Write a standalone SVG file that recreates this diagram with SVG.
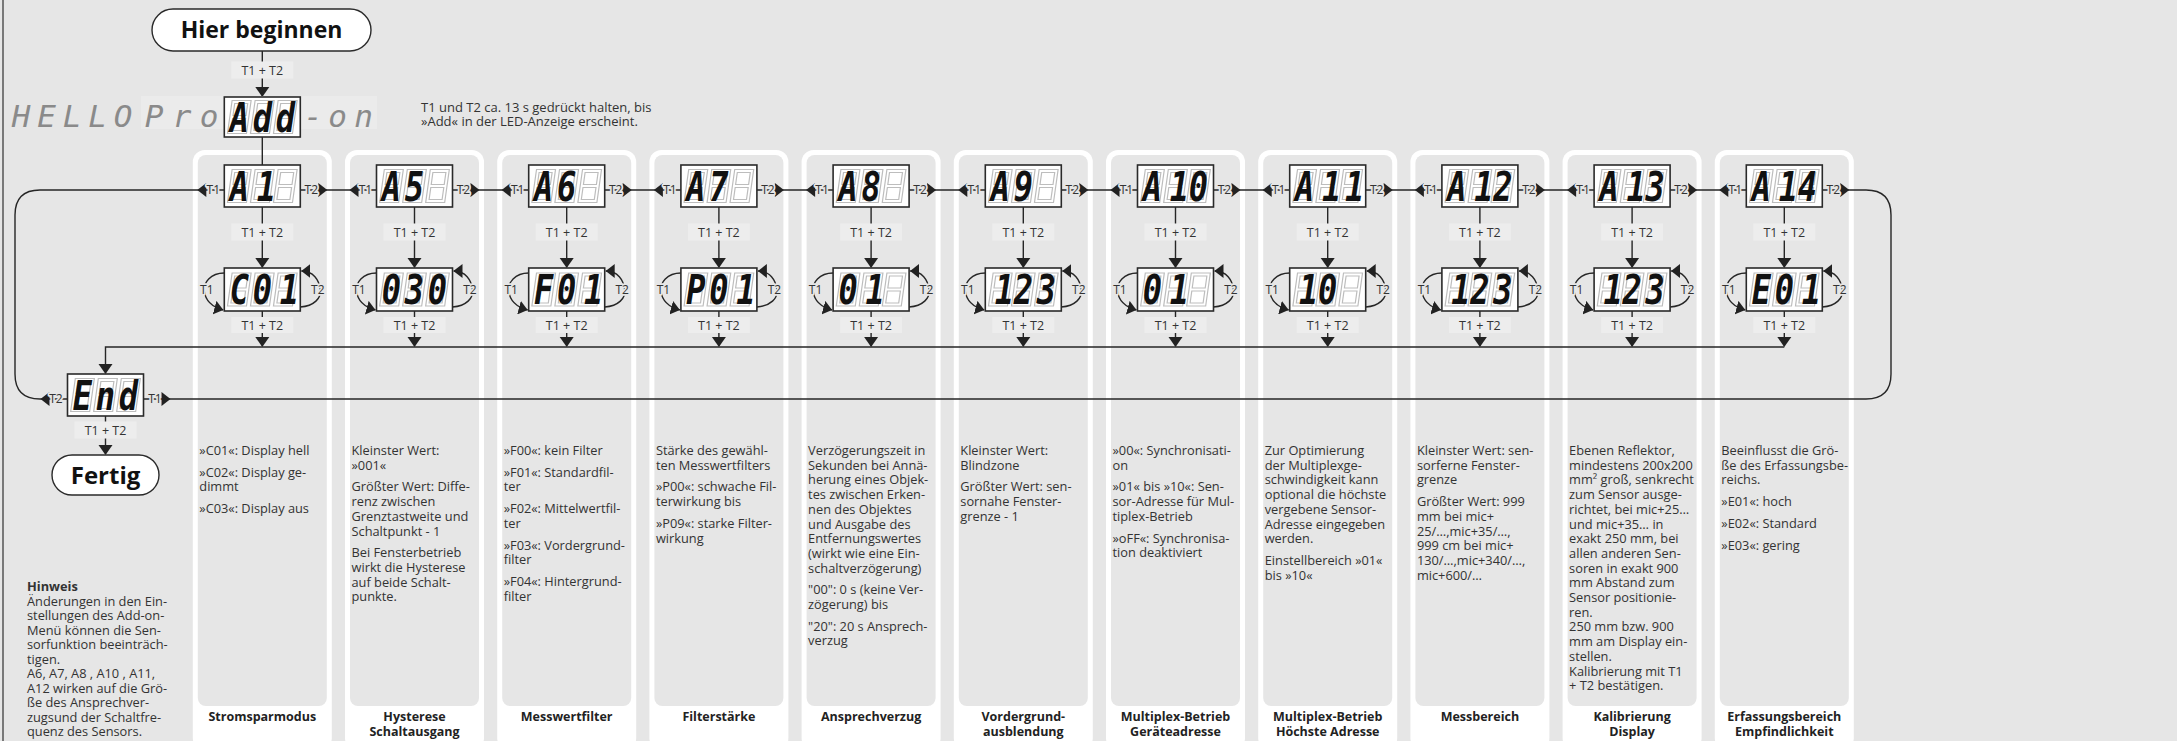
<svg xmlns="http://www.w3.org/2000/svg" width="2177" height="741" viewBox="0 0 2177 741">
<style>
.bg{fill:#e6e6e6}
.pnl{fill:#fff}
.pin{fill:#e6e6e6}
.ln{fill:none;stroke:#262626;stroke-width:1.4}
.box{fill:#fff;stroke:#2a2a2a;stroke-width:1.6}
.term{fill:#fff;stroke:#2a2a2a;stroke-width:1.4}
.seg{font-family:"DejaVu Sans Mono",monospace;font-weight:bold;font-style:italic;font-size:40px;fill:#111;text-anchor:middle}
.hello{font-family:"DejaVu Sans Mono",monospace;font-style:italic;font-size:31px;fill:#8a8a8a;text-anchor:middle}
.lb{font-family:"Open Sans","Liberation Sans",sans-serif;font-size:12.5px;fill:#333;text-anchor:middle}
.lbbg{fill:#ededed}
.sm{font-family:"Open Sans","Liberation Sans",sans-serif;font-size:12px;fill:#333;text-anchor:middle;stroke:#e6e6e6;stroke-width:3.5;paint-order:stroke;stroke-linejoin:round}
.bt{font-family:"Open Sans","Liberation Sans",sans-serif;font-size:12.8px;fill:#333}
.tt{font-family:"Open Sans","Liberation Sans",sans-serif;font-size:12.5px;font-weight:bold;fill:#222;text-anchor:middle}
.big{font-family:"Open Sans","Liberation Sans",sans-serif;font-size:23px;font-weight:bold;fill:#111;text-anchor:middle}
</style>
<defs>
<path id="ad" d="M-7,-10H7L0,0Z" fill="#222"/>
<path id="al" d="M0,0L9,-7V7Z" fill="#222"/>
<path id="ar" d="M0,0L-9,-7V7Z" fill="#222"/>
<g id="g8" transform="skewX(-8)"><path d="M-8,-15H8V15H-8Z M-8,0H8" fill="none" stroke="#bdbdbd" stroke-width="4.2"/><path d="M-8,-15H8V15H-8Z M-8,0H8" fill="none" stroke="#fff" stroke-width="1.8"/></g>
<g id="g3"><use href="#g8" x="-23"/><use href="#g8"/><use href="#g8" x="23"/></g>
<marker id="mh" viewBox="0 0 9 14" refX="9" refY="7" markerWidth="9" markerHeight="14" markerUnits="userSpaceOnUse" orient="auto"><path d="M0,0L9,7L0,14Z" fill="#222"/></marker>
<g id="loop"><path class="ln" marker-end="url(#mh)" d="M-38,273C-52,273 -59,283 -58,291C-57,300 -50,307 -39,310"/><path class="ln" marker-end="url(#mh)" d="M38,307C52,306 59,298 58,290C57,280 51,271 39,271"/></g>
</defs>
<rect class="bg" x="0" y="0" width="2177" height="741"/>
<line x1="3" y1="0" x2="3" y2="741" stroke="#555" stroke-width="1.5"/>

<g id="panels">
<rect class="pnl" x="192.8" y="150" width="139" height="600" rx="12"/><rect class="pin" x="197.8" y="155" width="129" height="551" rx="8"/>
<rect class="pnl" x="345" y="150" width="139" height="600" rx="12"/><rect class="pin" x="350" y="155" width="129" height="551" rx="8"/>
<rect class="pnl" x="497.2" y="150" width="139" height="600" rx="12"/><rect class="pin" x="502.2" y="155" width="129" height="551" rx="8"/>
<rect class="pnl" x="649.4" y="150" width="139" height="600" rx="12"/><rect class="pin" x="654.4" y="155" width="129" height="551" rx="8"/>
<rect class="pnl" x="801.6" y="150" width="139" height="600" rx="12"/><rect class="pin" x="806.6" y="155" width="129" height="551" rx="8"/>
<rect class="pnl" x="953.8" y="150" width="139" height="600" rx="12"/><rect class="pin" x="958.8" y="155" width="129" height="551" rx="8"/>
<rect class="pnl" x="1106" y="150" width="139" height="600" rx="12"/><rect class="pin" x="1111" y="155" width="129" height="551" rx="8"/>
<rect class="pnl" x="1258.2" y="150" width="139" height="600" rx="12"/><rect class="pin" x="1263.2" y="155" width="129" height="551" rx="8"/>
<rect class="pnl" x="1410.4" y="150" width="139" height="600" rx="12"/><rect class="pin" x="1415.4" y="155" width="129" height="551" rx="8"/>
<rect class="pnl" x="1562.6" y="150" width="139" height="600" rx="12"/><rect class="pin" x="1567.6" y="155" width="129" height="551" rx="8"/>
<rect class="pnl" x="1714.8" y="150" width="139" height="600" rx="12"/><rect class="pin" x="1719.8" y="155" width="129" height="551" rx="8"/>
</g>

<g id="panel-texts">
<text class="bt" x="199.3" y="455">»C01«: Display hell<tspan x="199.3" dy="21.7">»C02«: Display ge-</tspan><tspan x="199.3" dy="14.7">dimmt</tspan><tspan x="199.3" dy="21.7">»C03«: Display aus</tspan></text>
<text class="tt" x="262.3" y="721">Stromsparmodus</text>

<text class="bt" x="351.5" y="455">Kleinster Wert:<tspan x="351.5" dy="14.7">»001«</tspan><tspan x="351.5" dy="21.7">Größter Wert: Diffe-</tspan><tspan x="351.5" dy="14.7">renz zwischen</tspan><tspan x="351.5" dy="14.7">Grenztastweite und</tspan><tspan x="351.5" dy="14.7">Schaltpunkt - 1</tspan><tspan x="351.5" dy="21.7">Bei Fensterbetrieb</tspan><tspan x="351.5" dy="14.7">wirkt die Hysterese</tspan><tspan x="351.5" dy="14.7">auf beide Schalt-</tspan><tspan x="351.5" dy="14.7">punkte.</tspan></text>
<text class="tt" x="414.5" y="721">Hysterese<tspan x="414.5" dy="15">Schaltausgang</tspan></text>

<text class="bt" x="503.7" y="455">»F00«: kein Filter<tspan x="503.7" dy="21.7">»F01«: Standardfil-</tspan><tspan x="503.7" dy="14.7">ter</tspan><tspan x="503.7" dy="21.7">»F02«: Mittelwertfil-</tspan><tspan x="503.7" dy="14.7">ter</tspan><tspan x="503.7" dy="21.7">»F03«: Vordergrund-</tspan><tspan x="503.7" dy="14.7">filter</tspan><tspan x="503.7" dy="21.7">»F04«: Hintergrund-</tspan><tspan x="503.7" dy="14.7">filter</tspan></text>
<text class="tt" x="566.7" y="721">Messwertfilter</text>

<text class="bt" x="655.9" y="455">Stärke des gewähl-<tspan x="655.9" dy="14.7">ten Messwertfilters</tspan><tspan x="655.9" dy="21.7">»P00«: schwache Fil-</tspan><tspan x="655.9" dy="14.7">terwirkung bis</tspan><tspan x="655.9" dy="21.7">»P09«: starke Filter-</tspan><tspan x="655.9" dy="14.7">wirkung</tspan></text>
<text class="tt" x="718.9" y="721">Filterstärke</text>

<text class="bt" x="808.1" y="455">Verzögerungszeit in<tspan x="808.1" dy="14.7">Sekunden bei Annä-</tspan><tspan x="808.1" dy="14.7">herung eines Objek-</tspan><tspan x="808.1" dy="14.7">tes zwischen Erken-</tspan><tspan x="808.1" dy="14.7">nen des Objektes</tspan><tspan x="808.1" dy="14.7">und Ausgabe des</tspan><tspan x="808.1" dy="14.7">Entfernungswertes</tspan><tspan x="808.1" dy="14.7">(wirkt wie eine Ein-</tspan><tspan x="808.1" dy="14.7">schaltverzögerung)</tspan><tspan x="808.1" dy="21.7">"00": 0 s (keine Ver-</tspan><tspan x="808.1" dy="14.7">zögerung) bis</tspan><tspan x="808.1" dy="21.7">"20": 20 s Ansprech-</tspan><tspan x="808.1" dy="14.7">verzug</tspan></text>
<text class="tt" x="871.1" y="721">Ansprechverzug</text>

<text class="bt" x="960.3" y="455">Kleinster Wert:<tspan x="960.3" dy="14.7">Blindzone</tspan><tspan x="960.3" dy="21.7">Größter Wert: sen-</tspan><tspan x="960.3" dy="14.7">sornahe Fenster-</tspan><tspan x="960.3" dy="14.7">grenze - 1</tspan></text>
<text class="tt" x="1023.3" y="721">Vordergrund-<tspan x="1023.3" dy="15">ausblendung</tspan></text>

<text class="bt" x="1112.5" y="455">»00«: Synchronisati-<tspan x="1112.5" dy="14.7">on</tspan><tspan x="1112.5" dy="21.7">»01« bis »10«: Sen-</tspan><tspan x="1112.5" dy="14.7">sor-Adresse für Mul-</tspan><tspan x="1112.5" dy="14.7">tiplex-Betrieb</tspan><tspan x="1112.5" dy="21.7">»oFF«: Synchronisa-</tspan><tspan x="1112.5" dy="14.7">tion deaktiviert</tspan></text>
<text class="tt" x="1175.5" y="721">Multiplex-Betrieb<tspan x="1175.5" dy="15">Geräteadresse</tspan></text>

<text class="bt" x="1264.7" y="455">Zur Optimierung<tspan x="1264.7" dy="14.7">der Multiplexge-</tspan><tspan x="1264.7" dy="14.7">schwindigkeit kann</tspan><tspan x="1264.7" dy="14.7">optional die höchste</tspan><tspan x="1264.7" dy="14.7">vergebene Sensor-</tspan><tspan x="1264.7" dy="14.7">Adresse eingegeben</tspan><tspan x="1264.7" dy="14.7">werden.</tspan><tspan x="1264.7" dy="21.7">Einstellbereich »01«</tspan><tspan x="1264.7" dy="14.7">bis »10«</tspan></text>
<text class="tt" x="1327.7" y="721">Multiplex-Betrieb<tspan x="1327.7" dy="15">Höchste Adresse</tspan></text>

<text class="bt" x="1416.9" y="455">Kleinster Wert: sen-<tspan x="1416.9" dy="14.7">sorferne Fenster-</tspan><tspan x="1416.9" dy="14.7">grenze</tspan><tspan x="1416.9" dy="21.7">Größter Wert: 999</tspan><tspan x="1416.9" dy="14.7">mm bei mic+</tspan><tspan x="1416.9" dy="14.7">25/…,mic+35/…,</tspan><tspan x="1416.9" dy="14.7">999 cm bei mic+</tspan><tspan x="1416.9" dy="14.7">130/…,mic+340/…,</tspan><tspan x="1416.9" dy="14.7">mic+600/…</tspan></text>
<text class="tt" x="1479.9" y="721">Messbereich</text>

<text class="bt" x="1569.1" y="455">Ebenen Reflektor,<tspan x="1569.1" dy="14.7">mindestens 200x200</tspan><tspan x="1569.1" dy="14.7">mm² groß, senkrecht</tspan><tspan x="1569.1" dy="14.7">zum Sensor ausge-</tspan><tspan x="1569.1" dy="14.7">richtet, bei mic+25…</tspan><tspan x="1569.1" dy="14.7">und mic+35… in</tspan><tspan x="1569.1" dy="14.7">exakt 250 mm, bei</tspan><tspan x="1569.1" dy="14.7">allen anderen Sen-</tspan><tspan x="1569.1" dy="14.7">soren in exakt 900</tspan><tspan x="1569.1" dy="14.7">mm Abstand zum</tspan><tspan x="1569.1" dy="14.7">Sensor positionie-</tspan><tspan x="1569.1" dy="14.7">ren.</tspan><tspan x="1569.1" dy="14.7">250 mm bzw. 900</tspan><tspan x="1569.1" dy="14.7">mm am Display ein-</tspan><tspan x="1569.1" dy="14.7">stellen.</tspan><tspan x="1569.1" dy="14.7">Kalibrierung mit T1</tspan><tspan x="1569.1" dy="14.7">+ T2 bestätigen.</tspan></text>
<text class="tt" x="1632.1" y="721">Kalibrierung<tspan x="1632.1" dy="15">Display</tspan></text>

<text class="bt" x="1721.3" y="455">Beeinflusst die Grö-<tspan x="1721.3" dy="14.7">ße des Erfassungsbe-</tspan><tspan x="1721.3" dy="14.7">reichs.</tspan><tspan x="1721.3" dy="21.7">»E01«: hoch</tspan><tspan x="1721.3" dy="21.7">»E02«: Standard</tspan><tspan x="1721.3" dy="21.7">»E03«: gering</tspan></text>
<text class="tt" x="1784.3" y="721">Erfassungsbereich<tspan x="1784.3" dy="15">Empfindlichkeit</tspan></text>
</g>

<g id="note-hinweis">
<text class="bt" x="27" y="591"><tspan font-weight="bold">Hinweis</tspan><tspan x="27" dy="14.5">Änderungen in den Ein-</tspan><tspan x="27" dy="14.5">stellungen des Add-on-</tspan><tspan x="27" dy="14.5">Menü können die Sen-</tspan><tspan x="27" dy="14.5">sorfunktion beeinträch-</tspan><tspan x="27" dy="14.5">tigen.</tspan><tspan x="27" dy="14.5">A6, A7, A8 , A10 , A11,</tspan><tspan x="27" dy="14.5">A12 wirken auf die Grö-</tspan><tspan x="27" dy="14.5">ße des Ansprechver-</tspan><tspan x="27" dy="14.5">zugsund der Schaltfre-</tspan><tspan x="27" dy="14.5">quenz des Sensors.</tspan></text>
</g>

<g id="note-top">
<text class="bt" style="font-size:13px" x="421" y="111.5">T1 und T2 ca. 13 s gedrückt halten, bis<tspan x="421" dy="14">»Add« in der LED-Anzeige erscheint.</tspan></text>
</g>

<g id="connectors">
<path class="ln" d="M40,399H1866Q1891,399 1891,374V215Q1891,190 1866,190H40Q15,190 15,215V374Q15,399 40,399Z"/>
<path class="ln" d="M262.3,51V96M262.3,137V165M105.5,373V347H1784.3M105.5,416V454"/>
<path class="ln" d="M262.3,207V267M262.3,311V346M414.5,207V267M414.5,311V346M566.7,207V267M566.7,311V346M718.9,207V267M718.9,311V346M871.1,207V267M871.1,311V346M1023.3,207V267M1023.3,311V346M1175.5,207V267M1175.5,311V346M1327.7,207V267M1327.7,311V346M1479.9,207V267M1479.9,311V346M1632.1,207V267M1632.1,311V346M1784.3,207V267M1784.3,311V346"/>
<use href="#loop" x="262.3"/><use href="#loop" x="414.5"/><use href="#loop" x="566.7"/><use href="#loop" x="718.9"/><use href="#loop" x="871.1"/><use href="#loop" x="1023.3"/><use href="#loop" x="1175.5"/><use href="#loop" x="1327.7"/><use href="#loop" x="1479.9"/><use href="#loop" x="1632.1"/><use href="#loop" x="1784.3"/>
<use href="#ad" x="262.3" y="97"/><use href="#ad" x="105.5" y="374"/><use href="#ad" x="105.5" y="455"/>
<use href="#ad" x="262.3" y="268"/><use href="#ad" x="262.3" y="347"/>
<use href="#ad" x="414.5" y="268"/><use href="#ad" x="414.5" y="347"/>
<use href="#ad" x="566.7" y="268"/><use href="#ad" x="566.7" y="347"/>
<use href="#ad" x="718.9" y="268"/><use href="#ad" x="718.9" y="347"/>
<use href="#ad" x="871.1" y="268"/><use href="#ad" x="871.1" y="347"/>
<use href="#ad" x="1023.3" y="268"/><use href="#ad" x="1023.3" y="347"/>
<use href="#ad" x="1175.5" y="268"/><use href="#ad" x="1175.5" y="347"/>
<use href="#ad" x="1327.7" y="268"/><use href="#ad" x="1327.7" y="347"/>
<use href="#ad" x="1479.9" y="268"/><use href="#ad" x="1479.9" y="347"/>
<use href="#ad" x="1632.1" y="268"/><use href="#ad" x="1632.1" y="347"/>
<use href="#ad" x="1784.3" y="268"/><use href="#ad" x="1784.3" y="347"/>
<use href="#al" x="40.5" y="399"/><use href="#ar" x="170.5" y="399"/>
<use href="#al" x="197.3" y="190"/><use href="#ar" x="327.3" y="190"/>
<use href="#al" x="349.5" y="190"/><use href="#ar" x="479.5" y="190"/>
<use href="#al" x="501.7" y="190"/><use href="#ar" x="631.7" y="190"/>
<use href="#al" x="653.9" y="190"/><use href="#ar" x="783.9" y="190"/>
<use href="#al" x="806.1" y="190"/><use href="#ar" x="936.1" y="190"/>
<use href="#al" x="958.3" y="190"/><use href="#ar" x="1088.3" y="190"/>
<use href="#al" x="1110.5" y="190"/><use href="#ar" x="1240.5" y="190"/>
<use href="#al" x="1262.7" y="190"/><use href="#ar" x="1392.7" y="190"/>
<use href="#al" x="1414.9" y="190"/><use href="#ar" x="1544.9" y="190"/>
<use href="#al" x="1567.1" y="190"/><use href="#ar" x="1697.1" y="190"/>
<use href="#al" x="1719.3" y="190"/><use href="#ar" x="1849.3" y="190"/>
</g>

<g id="labels">
<rect class="lbbg" x="231.3" y="61.5" width="62" height="17"/><text class="lb" x="262.3" y="74.5">T1 + T2</text>
<rect class="lbbg" x="74.5" y="421.5" width="62" height="17"/><text class="lb" x="105.5" y="434.5">T1 + T2</text>
<rect class="lbbg" x="231.3" y="223.5" width="62" height="17"/><text class="lb" x="262.3" y="236.5">T1 + T2</text><rect class="lbbg" x="231.3" y="317" width="62" height="16"/><text class="lb" x="262.3" y="329.5">T1 + T2</text>
<rect class="lbbg" x="383.5" y="223.5" width="62" height="17"/><text class="lb" x="414.5" y="236.5">T1 + T2</text><rect class="lbbg" x="383.5" y="317" width="62" height="16"/><text class="lb" x="414.5" y="329.5">T1 + T2</text>
<rect class="lbbg" x="535.7" y="223.5" width="62" height="17"/><text class="lb" x="566.7" y="236.5">T1 + T2</text><rect class="lbbg" x="535.7" y="317" width="62" height="16"/><text class="lb" x="566.7" y="329.5">T1 + T2</text>
<rect class="lbbg" x="687.9" y="223.5" width="62" height="17"/><text class="lb" x="718.9" y="236.5">T1 + T2</text><rect class="lbbg" x="687.9" y="317" width="62" height="16"/><text class="lb" x="718.9" y="329.5">T1 + T2</text>
<rect class="lbbg" x="840.1" y="223.5" width="62" height="17"/><text class="lb" x="871.1" y="236.5">T1 + T2</text><rect class="lbbg" x="840.1" y="317" width="62" height="16"/><text class="lb" x="871.1" y="329.5">T1 + T2</text>
<rect class="lbbg" x="992.3" y="223.5" width="62" height="17"/><text class="lb" x="1023.3" y="236.5">T1 + T2</text><rect class="lbbg" x="992.3" y="317" width="62" height="16"/><text class="lb" x="1023.3" y="329.5">T1 + T2</text>
<rect class="lbbg" x="1144.5" y="223.5" width="62" height="17"/><text class="lb" x="1175.5" y="236.5">T1 + T2</text><rect class="lbbg" x="1144.5" y="317" width="62" height="16"/><text class="lb" x="1175.5" y="329.5">T1 + T2</text>
<rect class="lbbg" x="1296.7" y="223.5" width="62" height="17"/><text class="lb" x="1327.7" y="236.5">T1 + T2</text><rect class="lbbg" x="1296.7" y="317" width="62" height="16"/><text class="lb" x="1327.7" y="329.5">T1 + T2</text>
<rect class="lbbg" x="1448.9" y="223.5" width="62" height="17"/><text class="lb" x="1479.9" y="236.5">T1 + T2</text><rect class="lbbg" x="1448.9" y="317" width="62" height="16"/><text class="lb" x="1479.9" y="329.5">T1 + T2</text>
<rect class="lbbg" x="1601.1" y="223.5" width="62" height="17"/><text class="lb" x="1632.1" y="236.5">T1 + T2</text><rect class="lbbg" x="1601.1" y="317" width="62" height="16"/><text class="lb" x="1632.1" y="329.5">T1 + T2</text>
<rect class="lbbg" x="1753.3" y="223.5" width="62" height="17"/><text class="lb" x="1784.3" y="236.5">T1 + T2</text><rect class="lbbg" x="1753.3" y="317" width="62" height="16"/><text class="lb" x="1784.3" y="329.5">T1 + T2</text>
<text class="sm" x="56" y="403.3">T2</text><text class="sm" x="155" y="403.3">T1</text>
<text class="sm" x="213.3" y="194.3">T1</text><text class="sm" x="311.3" y="194.3">T2</text><text class="sm" x="206.8" y="294.3">T1</text><text class="sm" x="317.8" y="294.3">T2</text>
<text class="sm" x="365.5" y="194.3">T1</text><text class="sm" x="463.5" y="194.3">T2</text><text class="sm" x="359" y="294.3">T1</text><text class="sm" x="470" y="294.3">T2</text>
<text class="sm" x="517.7" y="194.3">T1</text><text class="sm" x="615.7" y="194.3">T2</text><text class="sm" x="511.2" y="294.3">T1</text><text class="sm" x="622.2" y="294.3">T2</text>
<text class="sm" x="669.9" y="194.3">T1</text><text class="sm" x="767.9" y="194.3">T2</text><text class="sm" x="663.4" y="294.3">T1</text><text class="sm" x="774.4" y="294.3">T2</text>
<text class="sm" x="822.1" y="194.3">T1</text><text class="sm" x="920.1" y="194.3">T2</text><text class="sm" x="815.6" y="294.3">T1</text><text class="sm" x="926.6" y="294.3">T2</text>
<text class="sm" x="974.3" y="194.3">T1</text><text class="sm" x="1072.3" y="194.3">T2</text><text class="sm" x="967.8" y="294.3">T1</text><text class="sm" x="1078.8" y="294.3">T2</text>
<text class="sm" x="1126.5" y="194.3">T1</text><text class="sm" x="1224.5" y="194.3">T2</text><text class="sm" x="1120" y="294.3">T1</text><text class="sm" x="1231" y="294.3">T2</text>
<text class="sm" x="1278.7" y="194.3">T1</text><text class="sm" x="1376.7" y="194.3">T2</text><text class="sm" x="1272.2" y="294.3">T1</text><text class="sm" x="1383.2" y="294.3">T2</text>
<text class="sm" x="1430.9" y="194.3">T1</text><text class="sm" x="1528.9" y="194.3">T2</text><text class="sm" x="1424.4" y="294.3">T1</text><text class="sm" x="1535.4" y="294.3">T2</text>
<text class="sm" x="1583.1" y="194.3">T1</text><text class="sm" x="1681.1" y="194.3">T2</text><text class="sm" x="1576.6" y="294.3">T1</text><text class="sm" x="1687.6" y="294.3">T2</text>
<text class="sm" x="1735.3" y="194.3">T1</text><text class="sm" x="1833.3" y="194.3">T2</text><text class="sm" x="1728.8" y="294.3">T1</text><text class="sm" x="1839.8" y="294.3">T2</text>
</g>

<g id="n-start"><rect class="term" x="152" y="9" width="219" height="42" rx="21"/><text class="big" x="261.5" y="38.3">Hier beginnen</text></g>

<g id="n-hello">
<rect x="141" y="96" width="236" height="33" fill="#ebebeb"/>
<text class="hello" x="21 46.5 72 97.5 123" y="127">HELLO</text>
<text class="hello" x="154 182 209" y="127">Pro</text>
<text class="hello" x="313 337.5 363.5" y="127">-on</text>
</g>

<g id="n-add"><rect class="box" x="224.3" y="97" width="76" height="40"/><use href="#g3" x="262.3" y="117"/><text class="seg" transform="translate(262.3 117) scale(.8 1)" x="-28.75 0 28.75" y="14.6">Add</text></g>

<g id="n-A1"><rect class="box" x="224.3" y="165" width="76" height="42"/><use href="#g3" x="262.3" y="186"/><text class="seg" transform="translate(262.3 186) scale(.8 1)" x="-28.75 5" y="14.6">A1</text></g>
<g id="n-C01"><rect class="box" x="224.3" y="268" width="76" height="43"/><use href="#g3" x="262.3" y="289.5"/><text class="seg" transform="translate(262.3 289.5) scale(.8 1)" x="-28.75 0 33.75" y="14.6">C01</text></g>

<g id="n-A5"><rect class="box" x="376.5" y="165" width="76" height="42"/><use href="#g3" x="414.5" y="186"/><text class="seg" transform="translate(414.5 186) scale(.8 1)" x="-28.75 0" y="14.6">A5</text></g>
<g id="n-030"><rect class="box" x="376.5" y="268" width="76" height="43"/><use href="#g3" x="414.5" y="289.5"/><text class="seg" transform="translate(414.5 289.5) scale(.8 1)" x="-28.75 0 28.75" y="14.6">030</text></g>

<g id="n-A6"><rect class="box" x="528.7" y="165" width="76" height="42"/><use href="#g3" x="566.7" y="186"/><text class="seg" transform="translate(566.7 186) scale(.8 1)" x="-28.75 0" y="14.6">A6</text></g>
<g id="n-F01"><rect class="box" x="528.7" y="268" width="76" height="43"/><use href="#g3" x="566.7" y="289.5"/><text class="seg" transform="translate(566.7 289.5) scale(.8 1)" x="-28.75 0 33.75" y="14.6">F01</text></g>

<g id="n-A7"><rect class="box" x="680.9" y="165" width="76" height="42"/><use href="#g3" x="718.9" y="186"/><text class="seg" transform="translate(718.9 186) scale(.8 1)" x="-28.75 0" y="14.6">A7</text></g>
<g id="n-P01"><rect class="box" x="680.9" y="268" width="76" height="43"/><use href="#g3" x="718.9" y="289.5"/><text class="seg" transform="translate(718.9 289.5) scale(.8 1)" x="-28.75 0 33.75" y="14.6">P01</text></g>

<g id="n-A8"><rect class="box" x="833.1" y="165" width="76" height="42"/><use href="#g3" x="871.1" y="186"/><text class="seg" transform="translate(871.1 186) scale(.8 1)" x="-28.75 0" y="14.6">A8</text></g>
<g id="n-01a"><rect class="box" x="833.1" y="268" width="76" height="43"/><use href="#g3" x="871.1" y="289.5"/><text class="seg" transform="translate(871.1 289.5) scale(.8 1)" x="-28.75 5" y="14.6">01</text></g>

<g id="n-A9"><rect class="box" x="985.3" y="165" width="76" height="42"/><use href="#g3" x="1023.3" y="186"/><text class="seg" transform="translate(1023.3 186) scale(.8 1)" x="-28.75 0" y="14.6">A9</text></g>
<g id="n-123a"><rect class="box" x="985.3" y="268" width="76" height="43"/><use href="#g3" x="1023.3" y="289.5"/><text class="seg" transform="translate(1023.3 289.5) scale(.8 1)" x="-23.75 0 28.75" y="14.6">123</text></g>

<g id="n-A10"><rect class="box" x="1137.5" y="165" width="76" height="42"/><use href="#g3" x="1175.5" y="186"/><text class="seg" transform="translate(1175.5 186) scale(.8 1)" x="-28.75 5 28.75" y="14.6">A10</text></g>
<g id="n-01b"><rect class="box" x="1137.5" y="268" width="76" height="43"/><use href="#g3" x="1175.5" y="289.5"/><text class="seg" transform="translate(1175.5 289.5) scale(.8 1)" x="-28.75 5" y="14.6">01</text></g>

<g id="n-A11"><rect class="box" x="1289.7" y="165" width="76" height="42"/><use href="#g3" x="1327.7" y="186"/><text class="seg" transform="translate(1327.7 186) scale(.8 1)" x="-28.75 5 33.75" y="14.6">A11</text></g>
<g id="n-10"><rect class="box" x="1289.7" y="268" width="76" height="43"/><use href="#g3" x="1327.7" y="289.5"/><text class="seg" transform="translate(1327.7 289.5) scale(.8 1)" x="-23.75 0" y="14.6">10</text></g>

<g id="n-A12"><rect class="box" x="1441.9" y="165" width="76" height="42"/><use href="#g3" x="1479.9" y="186"/><text class="seg" transform="translate(1479.9 186) scale(.8 1)" x="-28.75 5 28.75" y="14.6">A12</text></g>
<g id="n-123b"><rect class="box" x="1441.9" y="268" width="76" height="43"/><use href="#g3" x="1479.9" y="289.5"/><text class="seg" transform="translate(1479.9 289.5) scale(.8 1)" x="-23.75 0 28.75" y="14.6">123</text></g>

<g id="n-A13"><rect class="box" x="1594.1" y="165" width="76" height="42"/><use href="#g3" x="1632.1" y="186"/><text class="seg" transform="translate(1632.1 186) scale(.8 1)" x="-28.75 5 28.75" y="14.6">A13</text></g>
<g id="n-123c"><rect class="box" x="1594.1" y="268" width="76" height="43"/><use href="#g3" x="1632.1" y="289.5"/><text class="seg" transform="translate(1632.1 289.5) scale(.8 1)" x="-23.75 0 28.75" y="14.6">123</text></g>

<g id="n-A14"><rect class="box" x="1746.3" y="165" width="76" height="42"/><use href="#g3" x="1784.3" y="186"/><text class="seg" transform="translate(1784.3 186) scale(.8 1)" x="-28.75 5 28.75" y="14.6">A14</text></g>
<g id="n-E01"><rect class="box" x="1746.3" y="268" width="76" height="43"/><use href="#g3" x="1784.3" y="289.5"/><text class="seg" transform="translate(1784.3 289.5) scale(.8 1)" x="-28.75 0 33.75" y="14.6">E01</text></g>

<g id="n-End"><rect class="box" x="67.5" y="374" width="76" height="42"/><use href="#g3" x="105.5" y="395"/><text class="seg" transform="translate(105.5 395) scale(.8 1)" x="-28.75 0 28.75" y="14.6">End</text></g>

<g id="n-fertig"><rect class="term" x="52" y="455" width="107" height="40" rx="20"/><text class="big" x="105.5" y="483.5" style="font-size:24px">Fertig</text></g>
</svg>
